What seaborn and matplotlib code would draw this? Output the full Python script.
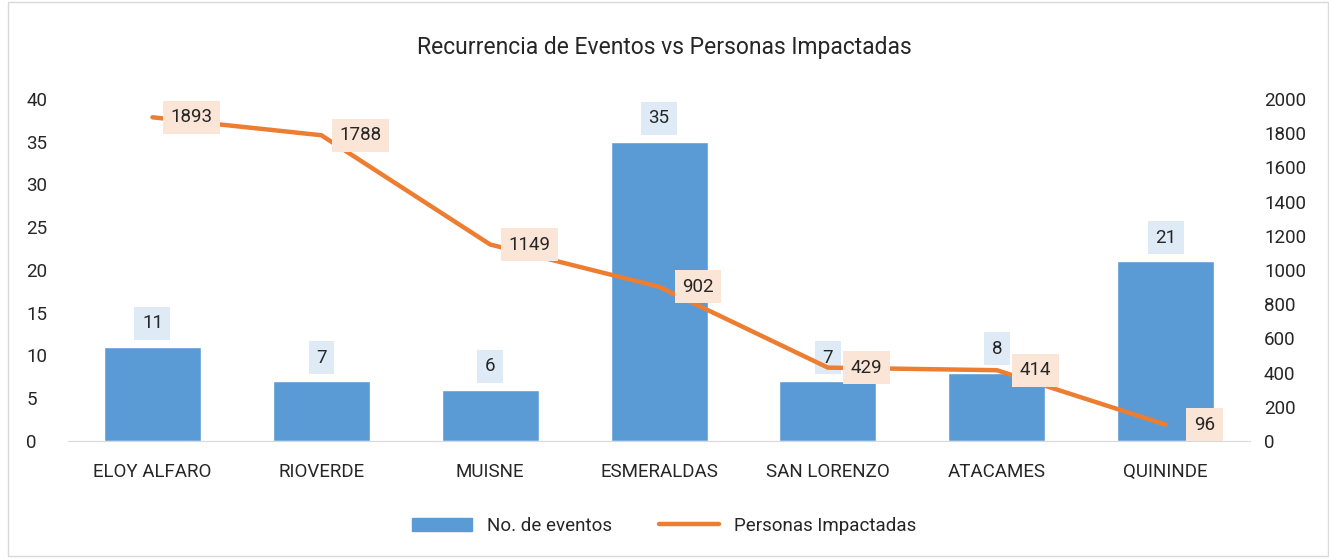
import numpy as np
import matplotlib.pyplot as plt
import pandas as pd
import seaborn as sns
from matplotlib.patches import Rectangle, Patch
from matplotlib.lines import Line2D

cantones = ["ELOY ALFARO", "RIOVERDE", "MUISNE", "ESMERALDAS", "SAN LORENZO", "ATACAMES", "QUININDE"]
eventos = [11, 7, 6, 35, 7, 8, 21]
personas = [1893, 1788, 1149, 902, 429, 414, 96]

sns.set_style("white")
plt.rcParams['font.family'] = ['Roboto', 'DejaVu Sans']
txt = "#262626"
fs = 13.5

df = pd.DataFrame({"canton": cantones, "eventos": eventos, "personas": personas})

fig = plt.figure(figsize=(13.29, 5.58), dpi=100)
ax = fig.add_axes([0.0512, 0.2097, 0.8894, 0.6129])

sns.barplot(data=df, x="canton", y="eventos", color="#5B9BD5", saturation=1,
            width=0.575, ax=ax)
ax2 = ax.twinx()
sns.lineplot(x=np.arange(len(cantones)), y=df["personas"], color="#ED7D31",
             linewidth=3.2, ax=ax2, solid_capstyle="round")

ax.set_xlim(-0.5, len(cantones) - 0.5)
ax.set_ylim(0, 40)
ax2.set_ylim(0, 2000)
ax.set_yticks(range(0, 41, 5))
ax2.set_yticks(range(0, 2001, 200))
ax.set_xlabel("")
ax.set_ylabel("")
ax2.set_ylabel("")

for a in (ax, ax2):
    for s in a.spines.values():
        s.set_visible(False)
    a.tick_params(length=0, labelsize=fs, labelcolor=txt)
ax.spines["bottom"].set_visible(True)
ax.spines["bottom"].set_color("#D9D9D9")
ax.tick_params(axis="x", pad=16)
ax.tick_params(axis="y", pad=30)
ax2.tick_params(axis="y", pad=10)
for lbl in ax.get_yticklabels():
    lbl.set_horizontalalignment("left")

# data labels
for i, v in enumerate(eventos):
    ax.annotate(str(v), (i, v), xytext=(0, 17), textcoords="offset points",
                ha="center", va="center", fontsize=fs, color=txt,
                bbox=dict(boxstyle="square,pad=0.4", fc="#DEEBF7", ec="none"))
for i, v in enumerate(personas):
    ax2.annotate(str(v), (i, v), xytext=(28, 0), textcoords="offset points",
                 ha="center", va="center", fontsize=fs, color=txt,
                 bbox=dict(boxstyle="square,pad=0.4", fc="#FBE5D6", ec="none"))

fig.suptitle("Recurrencia de Eventos vs Personas Impactadas", y=0.935,
             fontsize=16.5, color=txt)

handles = [Patch(color="#5B9BD5"),
           Line2D([0], [0], color="#ED7D31", linewidth=3.2, solid_capstyle="round")]
fig.legend(handles, ["No. de eventos", "Personas Impactadas"], loc="center",
           bbox_to_anchor=(0.5, 0.058), ncol=2, frameon=False, fontsize=fs,
           handlelength=3.2, columnspacing=2.5, labelcolor=txt)

fig.patches.append(Rectangle((0.006, 0.004), 0.993, 0.993, transform=fig.transFigure,
                             fill=False, ec="#D9D9D9", lw=1))

fig.savefig("out.png", dpi=100)
